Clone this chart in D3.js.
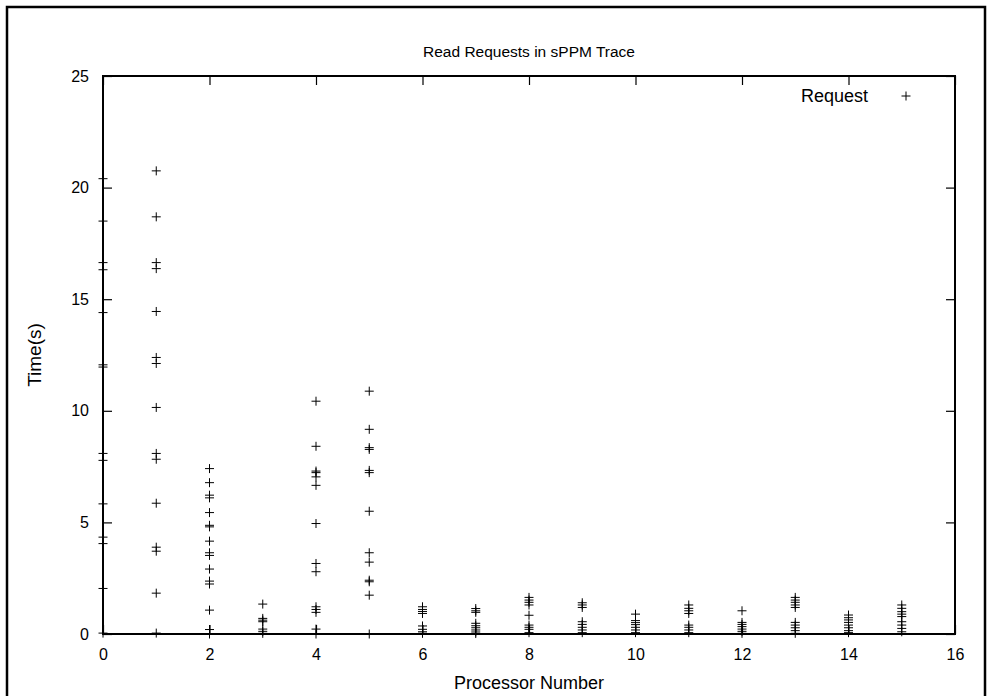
<!DOCTYPE html>
<html>
<head>
<meta charset="utf-8">
<script src="https://cdn.jsdelivr.net/npm/d3@7"></script>
<style>
  body { margin: 0; background: #fff; }
  svg text { font-family: "Liberation Sans", Arial, sans-serif; fill: #000; }
</style>
</head>
<body>
<div id="chart"></div>
<script>
// request times (s) per processor
var p0  = [20.4, 18.5, 16.64, 16.32, 14.4, 12.06, 11.96, 8.09, 7.78, 5.83, 4.34, 4.05, 2.04, 0.04];
var p1  = [20.75, 18.69, 16.64, 16.37, 14.45, 12.39, 12.12, 10.15, 8.09, 7.83, 5.86, 3.89, 3.71, 1.83, 0.04];
var p2  = [7.41, 6.78, 6.22, 6.10, 5.44, 4.87, 4.80, 4.16, 3.64, 3.52, 2.91, 2.37, 2.24, 1.07, 0.2, 0.0];
var p3  = [1.34, 0.70, 0.62, 0.55, 0.22, 0.12, 0.03];
var p4  = [10.43, 8.41, 7.30, 7.23, 7.04, 6.66, 4.95, 3.16, 2.79, 1.22, 1.10, 0.97, 0.22, 0.0];
var p5  = [10.88, 9.17, 8.35, 8.27, 7.33, 7.23, 5.50, 3.64, 3.22, 2.41, 2.34, 1.74, 0.0];
var p6  = [1.22, 1.10, 1.01, 0.92, 0.36, 0.21, 0.10, 0.03];
var p7  = [1.14, 1.04, 0.97, 0.48, 0.37, 0.28, 0.18, 0.09, 0.02];
var p8  = [1.64, 1.52, 1.42, 1.30, 0.84, 0.40, 0.30, 0.21, 0.06];
var p9  = [1.40, 1.30, 1.19, 0.55, 0.43, 0.30, 0.18, 0.06];
var p10 = [0.89, 0.60, 0.51, 0.42, 0.30, 0.18, 0.06];
var p11 = [1.30, 1.15, 1.04, 0.92, 0.40, 0.30, 0.18, 0.06];
var p12 = [1.04, 0.52, 0.43, 0.33, 0.22, 0.12, 0.03];
var p13 = [1.64, 1.52, 1.42, 1.30, 1.19, 0.52, 0.40, 0.28, 0.15, 0.03];
var p14 = [0.85, 0.73, 0.63, 0.52, 0.40, 0.28, 0.15, 0.06];
var p15 = [1.30, 1.15, 1.00, 0.89, 0.78, 0.55, 0.40, 0.25, 0.10];

var xTicks = [0, 2, 4, 6, 8, 10, 12, 14, 16];
var yTicks = [0, 5, 10, 15, 20, 25];

var title = 'Read Requests in sPPM Trace';
var xLabel = 'Processor Number';
var yLabel = 'Time(s)';
var seriesName = 'Request';

(function(){
    var W = 992, H = 696;
    var margin = {top: 76, right: 37, bottom: 62, left: 103};
    var width = W - margin.left - margin.right;
    var height = H - margin.top - margin.bottom;

    var procs = [p0, p1, p2, p3, p4, p5, p6, p7, p8, p9, p10, p11, p12, p13, p14, p15];
    var data = [];
    procs.forEach(function(arr, i){
	arr.forEach(function(t){ data.push({p: i, t: t}); });
    });

    var svg = d3.select('#chart').append('svg')
	.attr('width', W)
	.attr('height', H);

    // outer frame
    svg.append('rect')
	.attr('x', 7).attr('y', 7)
	.attr('width', 978).attr('height', 720)
	.attr('fill', 'none').attr('stroke', '#000').attr('stroke-width', 2.5);

    var x = d3.scaleLinear().domain([0, 16]).range([0, width]);
    var y = d3.scaleLinear().domain([0, 25]).range([height, 0]);

    var g = svg.append('g').attr('transform', 'translate(' + margin.left + ',' + margin.top + ')');

    var tick = 9;
    // bottom / top axes with inward ticks
    var xb = g.append('g').attr('transform', 'translate(0,' + height + ')')
	.call(d3.axisBottom(x).tickValues(xTicks).tickSize(-tick).tickPadding(tick + 6));
    var xt = g.append('g')
	.call(d3.axisTop(x).tickValues(xTicks).tickSize(-tick).tickFormat(''));
    var yl = g.append('g')
	.call(d3.axisLeft(y).tickValues(yTicks).tickSize(-tick).tickPadding(tick + 5));
    var yr = g.append('g').attr('transform', 'translate(' + width + ',0)')
	.call(d3.axisRight(y).tickValues(yTicks).tickSize(-tick).tickFormat(''));

    [xb, xt, yl, yr].forEach(function(a){
	a.select('.domain').remove();
	a.selectAll('line').attr('stroke', '#000').attr('stroke-width', 1.2);
	a.selectAll('text').style('font-size', '16px').attr('fill', '#000');
    });

    // plot border
    g.append('rect')
	.attr('width', width).attr('height', height)
	.attr('fill', 'none').attr('stroke', '#000').attr('stroke-width', 2);

    // plus markers
    var s = 4.5;
    var plus = function(sel){
	sel.append('line').attr('x1', -s).attr('x2', s).attr('y1', 0).attr('y2', 0);
	sel.append('line').attr('x1', 0).attr('x2', 0).attr('y1', -s).attr('y2', s);
    };
    var pts = g.append('g').attr('stroke', '#000').attr('stroke-width', 1)
	.selectAll('g.pt').data(data).enter().append('g')
	.attr('class', 'pt')
	.attr('transform', function(d){ return 'translate(' + x(d.p) + ',' + y(d.t) + ')'; });
    plus(pts);

    // legend
    var leg = g.append('g');
    leg.append('text')
	.attr('x', 765).attr('y', 20)
	.attr('text-anchor', 'end').attr('dy', '0.35em')
	.style('font-size', '18px')
	.text(seriesName);
    var lp = leg.append('g').attr('stroke', '#000').attr('stroke-width', 1)
	.attr('transform', 'translate(803,20)');
    plus(lp);

    // titles
    svg.append('text')
	.attr('x', margin.left + width / 2).attr('y', 52)
	.attr('text-anchor', 'middle').attr('dy', '0.35em')
	.style('font-size', '15.5px')
	.text(title);
    svg.append('text')
	.attr('x', margin.left + width / 2).attr('y', 683)
	.attr('text-anchor', 'middle').attr('dy', '0.35em')
	.style('font-size', '18px')
	.text(xLabel);
    svg.append('text')
	.attr('transform', 'translate(34,' + (margin.top + height / 2) + ') rotate(-90)')
	.attr('text-anchor', 'middle').attr('dy', '0.35em')
	.style('font-size', '19px')
	.text(yLabel);
})();
</script>
</body>
</html>
